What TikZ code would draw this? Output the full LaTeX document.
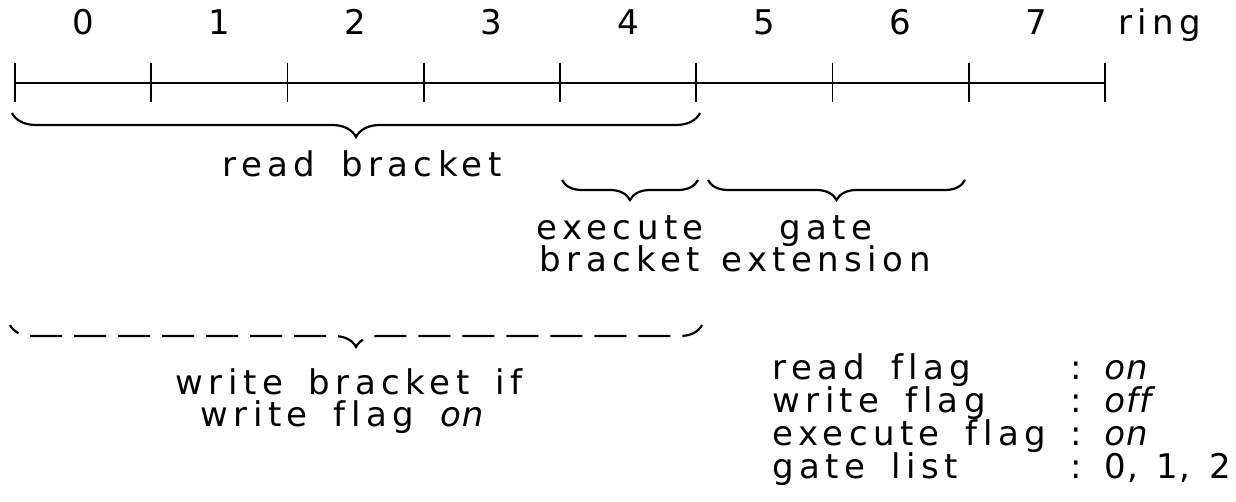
\documentclass[tikz,border=0pt]{standalone}
\usepackage{fontspec}
\setmainfont{DejaVu Sans}[LetterSpace=16, WordSpace=1.6, Ligatures=NoCommon]
\newcommand{\tight}{\addfontfeature{LetterSpace=3, Ligatures=NoCommon}}
\usetikzlibrary{
  calc,
  decorations.pathreplacing,
}

\begin{document}
\begin{tikzpicture}[
    x=0.5pt, y=-0.5pt,
    ringline/.style={line width=1.2pt},
    ringtick/.style={line width=0.9pt},
    lab/.style={font=\fontsize{17}{20}\selectfont, inner sep=0pt, anchor=base},
    txt/.style={lab, anchor=base west},
    brc/.style={decorate, line width=1.1pt,
        decoration={brace, mirror, amplitude=#1}},
    brc/.default=12pt,
  ]
  \useasboundingbox (0,0) rectangle (1236,502);
  % the ring and its slots
  \foreach \i in {0,...,8} {
      \coordinate (t\i) at (15+136.25*\i, 83);
      \draw[ringtick] ($(t\i)+(0,-20)$) -- ($(t\i)+(0,19)$);
    }
  \draw[ringline] (t0) -- (t8);
  \foreach \i in {0,...,7} {
      \node[lab] (n\i) at (83+136.25*\i, 35) {\i};
    }
  \node[txt] (ring) at (1118,35) {ring};

  % brackets
  \coordinate (rb1) at (12,113);
  \coordinate (rb2) at (700,113);
  \draw[brc] (rb1) -- (rb2);
  \node[lab] (readb) at (362,177) {read bracket};

  \coordinate (eb1) at (562,180);
  \coordinate (eb2) at (698,180);
  \coordinate (gx1) at (708,180);
  \coordinate (gx2) at (965,180);
  \draw[brc=10pt] (eb1) -- (eb2);
  \draw[brc=10pt] (gx1) -- (gx2);
  \node[lab] (execb1) at (620,240) {execute};
  \node[lab] (execb2) at (620,271) {bracket};
  \node[lab] (gate1) at (826,240) {gate};
  \node[lab] (gate2) at (826,271) {extension};

  \coordinate (wb1) at (10,325);
  \coordinate (wb2) at (702,325);
  \draw[brc=11pt, dash pattern=on 16pt off 6pt, dash phase=10pt] (wb1) -- (wb2);
  \node[lab] (writeb1) at (349,394) {write bracket if};
  \node[lab] (writeb2) at (342,426) {write flag {\tight\itshape on}};

  % flags
  \foreach \n/\t/\v/\y in {rf/read flag/\itshape on/379,
                           wf/write flag/\itshape off/412,
                           xf/execute flag/\itshape on/445,
                           gl/gate list/{0, 1, 2}/478} {
      \node[txt] (\n) at (772,\y) {\t};
      \node[txt] (\n c) at (1070,\y) {:};
      \node[txt] (\n v) at (1104,\y) {\tight\v};
    }
\end{tikzpicture}
\end{document}
